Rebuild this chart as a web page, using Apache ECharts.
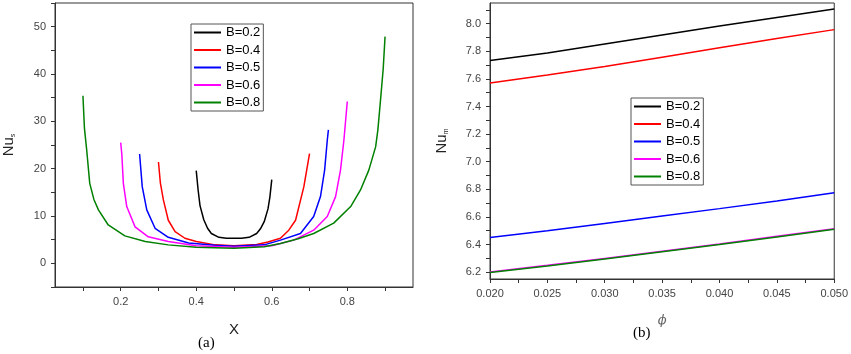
<!DOCTYPE html>
<html>
<head>
	<meta charset="utf-8"/>
	<title>Nu</title>
	<style>
		* { margin: 0; padding: 0; }
		html, body { width: 851px; height: 354px; background: #fff; }
		#main { width: 851px; height: 354px; }
	</style>
</head>
<body>
	<div id="main"></div>
	<script src="https://cdn.jsdelivr.net/npm/echarts@6/dist/echarts.min.js"></script>
	<script>
		// (a) local Nusselt number vs X, [X, Nu_s]
		var nuS_B02 = [[0.40, 19.6], [0.405, 15.5], [0.41, 12.2], [0.42, 9.2], [0.43, 7.4], [0.44, 6.3], [0.46, 5.5],
			[0.48, 5.3], [0.50, 5.3], [0.52, 5.3], [0.54, 5.5], [0.56, 6.3], [0.57, 7.3], [0.58, 8.8], [0.59, 11.5],
			[0.595, 14.0], [0.60, 17.7]];
		var nuS_B04 = [[0.30, 21.4], [0.305, 17.0], [0.313, 13.4], [0.326, 9.1], [0.344, 6.7], [0.37, 5.3], [0.40, 4.6],
			[0.45, 3.9], [0.50, 3.7], [0.56, 4.0], [0.59, 4.5], [0.623, 5.3], [0.645, 7.0], [0.663, 9.1], [0.685, 16.2],
			[0.70, 23.2]];
		var nuS_B05 = [[0.25, 23.1], [0.257, 16.2], [0.269, 11.3], [0.291, 7.4], [0.326, 5.5], [0.38, 4.3], [0.45, 3.8],
			[0.50, 3.6], [0.58, 3.9], [0.623, 4.9], [0.676, 6.3], [0.711, 9.9], [0.729, 14.1], [0.74, 19.7], [0.747, 26.0],
			[0.75, 28.2]];
		var nuS_B06 = [[0.20, 25.5], [0.203, 23.0], [0.207, 16.9], [0.216, 12.0], [0.238, 7.7], [0.273, 5.6], [0.326, 4.6],
			[0.40, 3.7], [0.50, 3.4], [0.60, 3.7], [0.658, 4.9], [0.711, 7.0], [0.747, 9.9], [0.769, 14.1], [0.782, 19.7],
			[0.791, 26.0], [0.80, 34.2]];
		var nuS_B08 = [[0.10, 35.4], [0.104, 28.5], [0.110, 23.9], [0.118, 16.9], [0.129, 13.5], [0.141, 11.3], [0.167, 8.1],
			[0.211, 5.8], [0.265, 4.6], [0.326, 3.9], [0.40, 3.4], [0.50, 3.2], [0.58, 3.5], [0.623, 4.2], [0.67, 5.2],
			[0.711, 6.3], [0.764, 8.5], [0.809, 12.0], [0.835, 15.5], [0.857, 19.7], [0.875, 24.6], [0.881, 28.2],
			[0.888, 34.5], [0.895, 41.0], [0.90, 47.9]];

		// (b) mean Nusselt number vs phi
		var phi = [0.020, 0.025, 0.030, 0.035, 0.040, 0.045, 0.050];
		var nuM_B02 = [7.733, 7.788, 7.853, 7.918, 7.983, 8.045, 8.106];
		var nuM_B04 = [7.570, 7.628, 7.690, 7.757, 7.825, 7.892, 7.957];
		var nuM_B05 = [6.450, 6.500, 6.553, 6.607, 6.660, 6.716, 6.775];
		var nuM_B06 = [6.201, 6.249, 6.299, 6.351, 6.404, 6.459, 6.514];
		var nuM_B08 = [6.197, 6.245, 6.295, 6.347, 6.400, 6.455, 6.510];

		var names = ['B=0.2', 'B=0.4', 'B=0.5', 'B=0.6', 'B=0.8'];
		var colors = ['#000000', '#ff0000', '#0000ff', '#ff00ff', '#008000'];
		var xLabelsA = [0.2, 0.4, 0.6, 0.8];
		var xTicksA = [0.1, 0.2, 0.3, 0.4, 0.5, 0.6, 0.7, 0.8, 0.9];
		var yLabelsB = [6.2, 6.4, 6.6, 6.8, 7.0, 7.2, 7.4, 7.6, 7.8, 8.0];
		var yTicksB = [6.2, 6.3, 6.4, 6.5, 6.6, 6.7, 6.8, 6.9, 7.0, 7.1, 7.2, 7.3, 7.4, 7.5, 7.6, 7.7, 7.8, 7.9, 8.0, 8.1];

		var seriesA = [nuS_B02, nuS_B04, nuS_B05, nuS_B06, nuS_B08];
		var seriesB = [nuM_B02, nuM_B04, nuM_B05, nuM_B06, nuM_B08];

		var font = 'Liberation Sans, Arial, sans-serif';
		var axisCommon = {
			axisLine: { show: true, onZero: false, lineStyle: { color: '#333', width: 1 } },
			axisTick: { show: true, inside: false, length: 4, lineStyle: { color: '#333' } },
			axisLabel: { color: '#444', fontSize: 11, fontFamily: font, margin: 9 },
			splitLine: { show: false }
		};
		function ax(extra) {
			return echarts.util.merge(echarts.util.clone(axisCommon), extra, true);
		}

		var legendCommon = {
			orient: 'vertical',
			data: names,
			icon: 'rect',
			itemWidth: 27,
			itemHeight: 2,
			itemGap: 4.5,
			borderColor: '#555',
			borderWidth: 1,
			textStyle: { fontSize: 13, fontFamily: font, color: '#000', lineHeight: 12 },
			selectedMode: false
		};

		var series = [];
		seriesA.forEach(function (d, i) {
			series.push({
				name: names[i], type: 'line', xAxisIndex: 0, yAxisIndex: 0,
				data: d, symbol: 'none', lineStyle: { color: colors[i], width: 1.5 },
				itemStyle: { color: colors[i] }
			});
		});
		seriesB.forEach(function (d, i) {
			series.push({
				name: names[i], type: 'line', xAxisIndex: 1, yAxisIndex: 1,
				data: phi.map(function (p, k) { return [p, d[k]]; }),
				symbol: 'none', lineStyle: { color: colors[i], width: 1.5 },
				itemStyle: { color: colors[i] }
			});
		});

		var myChart = echarts.init(document.getElementById('main'), null, { renderer: 'canvas' });
		myChart.setOption({
			animation: false,
			backgroundColor: '#fff',
			grid: [
				{ left: 55, top: 3, width: 358, height: 284, show: true, borderColor: '#333', borderWidth: 1 },
				{ left: 490, top: 3, width: 345, height: 276, show: true, borderColor: '#333', borderWidth: 1 }
			],
			legend: [
				echarts.util.merge({ left: 191, top: 24, padding: [2, 3, 2, 3] }, legendCommon),
				echarts.util.merge({ left: 631, top: 98, padding: [2, 3, 2, 3] }, legendCommon)
			],
			xAxis: [
				ax({
					type: 'value', gridIndex: 0, min: 0.026, max: 0.974,
					name: 'X', nameLocation: 'middle', nameGap: 35,
					nameTextStyle: { fontSize: 15, fontFamily: font, color: '#222' },
					axisLabel: { customValues: xLabelsA, formatter: function (v) { return v.toFixed(1); } },
					axisTick: { customValues: xTicksA }
				}),
				ax({
					type: 'value', gridIndex: 1, min: 0.02, max: 0.05, interval: 0.005,
					name: 'ϕ', nameLocation: 'middle', nameGap: 35,
					nameTextStyle: { fontSize: 13, fontFamily: 'DejaVu Serif', fontStyle: 'italic', color: '#666' },
					axisLabel: { formatter: function (v) { return v.toFixed(3); } },
					minorTick: { show: true, splitNumber: 2, length: 4, lineStyle: { color: '#333' } }
				})
			],
			yAxis: [
				ax({
					type: 'value', gridIndex: 0, min: -5, max: 55, interval: 5,
					name: '{a|Nu}{b|s}', nameLocation: 'middle', nameGap: 38, nameRotate: 90,
					nameTextStyle: {
						rich: {
							a: { fontSize: 15, fontFamily: font, color: '#222' },
							b: { fontSize: 7, fontFamily: font, color: '#222', padding: [10, 0, 0, 0] }
						}
					},
					axisLabel: {
						formatter: function (v) {
							return (v % 10 === 0 && v >= 0 && v <= 50) ? String(v) : '';
						}
					}
				}),
				ax({
					type: 'value', gridIndex: 1, min: 6.15, max: 8.15,
					name: '{a|Nu}{b|m}', nameLocation: 'middle', nameGap: 40, nameRotate: 90,
					nameTextStyle: {
						rich: {
							a: { fontSize: 15, fontFamily: font, color: '#222' },
							b: { fontSize: 7, fontFamily: font, color: '#222', padding: [10, 0, 0, 0] }
						}
					},
					axisLabel: { customValues: yLabelsB, formatter: function (v) { return v.toFixed(1); } },
					axisTick: { customValues: yTicksB }
				})
			],
			series: series,
			graphic: [
				{ type: 'text', left: 198, top: 336, style: { text: '(a)', fontSize: 15, fontFamily: 'Liberation Serif', fill: '#000' } },
				{ type: 'text', left: 633, top: 326, style: { text: '(b)', fontSize: 15, fontFamily: 'Liberation Serif', fill: '#000' } }
			]
		});
	</script>
</body>
</html>
